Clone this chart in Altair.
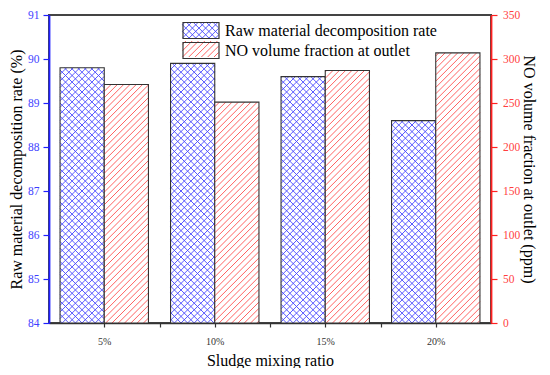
import math
import altair as alt
import pandas as pd

# ---------------- data ----------------
categories = ["5%", "10%", "15%", "20%"]
decomposition_rate = [89.8, 89.9, 89.6, 88.6]          # left axis (%)
no_fraction = [271, 251, 287, 307]                      # right axis (ppm)
series_names = ["Raw material decomposition rate", "NO volume fraction at outlet"]
left_tick_values = [84 + 0.5 * k for k in range(15)]
right_tick_values = [25 * k for k in range(15)]
x_tick_values = [0.5, 1, 1.5, 2, 2.5, 3, 3.5]
x_title = "Sludge mixing ratio"
left_title = "Raw material decomposition rate (%)"
right_title = "NO volume fraction at outlet (ppm)"

# ---------------- layout / style ----------------
W, H = 442, 308
LEFT_DOM = [84, 91]
RIGHT_DOM = [0, 350]
NCAT = len(categories)
X_DOM = [0, NCAT]
PX = W / NCAT
FONT = "Liberation Serif"
BLUE_LINE = "#4646ff"
RED_LINE = "#ff5050"
BLUE_AX = "#1f1fff"
RED_AX = "#ff2020"
BLUE_LBL = "#3f3fff"
RED_LBL = "#ff3f3f"
EDGE = "#333333"


def hatch(x0, x1, top, spacing, dirs):
    """45-degree hatch segments inside [x0,x1] x [0,top] (pixel units, y up)."""
    segs = []
    for d in dirs:
        if d == "/":
            lo, hi = -x1, top - x0
            for k in range(math.ceil(lo / spacing), math.floor(hi / spacing) + 1):
                c = k * spacing
                xs, xe = max(x0, -c), min(x1, top - c)
                if xe - xs > 0.2:
                    segs.append((xs, xs + c, xe, xe + c))
        else:
            lo, hi = x0, x1 + top
            for k in range(math.ceil(lo / spacing), math.floor(hi / spacing) + 1):
                c = k * spacing
                xs, xe = max(x0, c - top), min(x1, c)
                if xe - xs > 0.2:
                    segs.append((xs, c - xs, xe, c - xe))
    return segs


# bar tables
blue_df = pd.DataFrame({"category": categories, "idx": range(NCAT), "rate": decomposition_rate})
blue_df["xa"] = blue_df["idx"] + 0.1
blue_df["xb"] = blue_df["idx"] + 0.5
red_df = pd.DataFrame({"category": categories, "idx": range(NCAT), "ppm": no_fraction})
red_df["xa"] = red_df["idx"] + 0.5
red_df["xb"] = red_df["idx"] + 0.9

# hatch tables (derived from the bar values, mapped back into data units)
rows = []
for _, r in blue_df.iterrows():
    top = (r["rate"] - LEFT_DOM[0]) / (LEFT_DOM[1] - LEFT_DOM[0]) * H
    for (a, b, c, d) in hatch(r["xa"] * PX, r["xb"] * PX, top, 6.6, ["/", "\\"]):
        rows.append({"hx": a / PX, "hy": LEFT_DOM[0] + b / H * 7,
                     "hx2": c / PX, "hy2": LEFT_DOM[0] + d / H * 7})
blue_hatch = pd.DataFrame(rows)
rows = []
for _, r in red_df.iterrows():
    top = r["ppm"] / RIGHT_DOM[1] * H
    for (a, b, c, d) in hatch(r["xa"] * PX, r["xb"] * PX, top, 6.3, ["/"]):
        rows.append({"hx": a / PX, "hy": b / H * RIGHT_DOM[1],
                     "hx2": c / PX, "hy2": d / H * RIGHT_DOM[1]})
red_hatch = pd.DataFrame(rows)

# legend symbol paths (unit coordinates, r = sqrt(size)/2 = 8 px)
SYM_SIZE = 256
R = math.sqrt(SYM_SIZE) / 2
BW, BH = 36, 16


def legend_path(spacing, dirs):
    out = []
    for (a, b, c, d) in hatch(0, BW, BH, spacing, dirs):
        out.append("M%.3f,%.3fL%.3f,%.3f" % ((a - BW / 2) / R, (BH / 2 - b) / R,
                                             (c - BW / 2) / R, (BH / 2 - d) / R))
    return "".join(out)


rect_path = "M%.3f,%.3fH%.3fV%.3fH%.3fZ" % (-BW / 2 / R, -BH / 2 / R, BW / 2 / R, BH / 2 / R, -BW / 2 / R)
path_blue = legend_path(6.6, ["/", "\\"])
path_red = legend_path(6.3, ["/"])

# ---------------- scales ----------------
x_scale = alt.Scale(domain=X_DOM, nice=False, zero=False)
l_scale = alt.Scale(domain=LEFT_DOM, nice=False, zero=False)
r_scale = alt.Scale(domain=RIGHT_DOM, nice=False, zero=True)

cat_js = "[" + ",".join("'%s'" % c for c in categories) + "]"
x_axis = alt.Axis(
    title=x_title, values=x_tick_values,
    labelExpr="abs(datum.value %% 1 - 0.5) < 0.01 ? %s[floor(datum.value)] : ''" % cat_js,
    grid=False, domainColor=EDGE, domainWidth=1.5, tickColor=EDGE, tickWidth=1.2, tickSize=4,
    labelFontSize=10, labelColor=EDGE, labelPadding=9, labelOverlap=False,
    titleFontSize=16, titlePadding=6, titleColor="black",
)
left_axis = alt.Axis(
    orient="left", title=left_title, values=left_tick_values,
    labelExpr="datum.value % 1 == 0 ? format(datum.value, 'd') : ''",
    tickSize={"condition": {"test": "datum.value % 1 == 0", "value": 6}, "value": 3.5},
    grid=False, domainColor=BLUE_AX, domainWidth=1.8, tickColor=BLUE_AX, tickWidth=1.2,
    labelColor=BLUE_LBL, labelFontSize=11.5, labelPadding=4, labelOverlap=False,
    titleFontSize=16, titlePadding=3, titleColor="black", titleLimit=400,
)
right_axis = alt.Axis(
    orient="right", title=right_title, values=right_tick_values,
    labelExpr="datum.value % 50 == 0 ? format(datum.value, 'd') : ''",
    tickSize={"condition": {"test": "datum.value % 50 == 0", "value": 6}, "value": 3.5},
    grid=False, domainColor=RED_AX, domainWidth=1.8, tickColor=RED_AX, tickWidth=1.2,
    labelColor=RED_LBL, labelFontSize=11.5, labelPadding=5.5, labelOverlap=False,
    titleFontSize=16, titlePadding=1, titleColor="black", titleLimit=400,
)

# ---------------- left group (decomposition rate) ----------------
blue_bars = alt.Chart(blue_df).mark_bar(fill="white", strokeWidth=0).encode(
    x=alt.X("xa:Q", scale=x_scale, axis=x_axis, title=x_title),
    x2="xb:Q",
    y=alt.Y("rate:Q", scale=l_scale, axis=left_axis, title=left_title),
    y2=alt.datum(LEFT_DOM[0]),
)
blue_lines = alt.Chart(blue_hatch).mark_rule(color=BLUE_LINE, strokeWidth=0.9).encode(
    x=alt.X("hx:Q", scale=x_scale, title=x_title), x2="hx2:Q",
    y=alt.Y("hy:Q", scale=l_scale, title=left_title), y2="hy2:Q",
)
blue_edge = alt.Chart(blue_df).mark_bar(fillOpacity=0, stroke=EDGE, strokeWidth=1.1).encode(
    x=alt.X("xa:Q", scale=x_scale, title=x_title), x2="xb:Q",
    y=alt.Y("rate:Q", scale=l_scale, title=left_title), y2=alt.datum(LEFT_DOM[0]),
)
left_group = alt.layer(blue_bars, blue_lines, blue_edge)

# ---------------- right group (NO fraction) ----------------
red_bars = alt.Chart(red_df).mark_bar(fill="white", strokeWidth=0).encode(
    x=alt.X("xa:Q", scale=x_scale, title=x_title),
    x2="xb:Q",
    y=alt.Y("ppm:Q", scale=r_scale, axis=right_axis, title=right_title),
    y2=alt.datum(0),
)
red_lines = alt.Chart(red_hatch).mark_rule(color=RED_LINE, strokeWidth=0.9).encode(
    x=alt.X("hx:Q", scale=x_scale, title=x_title), x2="hx2:Q",
    y=alt.Y("hy:Q", scale=r_scale, title=right_title), y2="hy2:Q",
)
red_edge = alt.Chart(red_df).mark_bar(fillOpacity=0, stroke=EDGE, strokeWidth=1.1).encode(
    x=alt.X("xa:Q", scale=x_scale, title=x_title), x2="xb:Q",
    y=alt.Y("ppm:Q", scale=r_scale, title=right_title), y2=alt.datum(0),
)
right_group = alt.layer(red_bars, red_lines, red_edge)

# ---------------- legend (two overlaid legends: hatch + frame) ----------------
LEG_X, LEG_Y = 143, 6.5
leg_df = pd.DataFrame({"series": series_names, "series_b": series_names})
common = dict(orient="none", legendX=LEG_X, legendY=LEG_Y, title=None, padding=0,
              symbolSize=SYM_SIZE, labelFont=FONT, labelFontSize=16, labelOffset=15,
              rowPadding=-11, labelLimit=400)
hatch_legend = alt.Legend(symbolStrokeWidth=0.9, labelColor="transparent", **common)
frame_legend = alt.Legend(symbolStrokeWidth=1.2, labelColor="black", symbolType=rect_path, **common)

legend_hatch_layer = alt.Chart(leg_df).mark_point(filled=False, opacity=1, size=SYM_SIZE).encode(
    shape=alt.Shape("series:N", scale=alt.Scale(domain=series_names, range=[path_blue, path_red]),
                    legend=hatch_legend),
    stroke=alt.Stroke("series:N", scale=alt.Scale(domain=series_names, range=[BLUE_LINE, RED_LINE]),
                      legend=hatch_legend),
).transform_filter("false")
legend_frame_layer = alt.Chart(leg_df).mark_point(filled=False, opacity=1, size=SYM_SIZE,
                                                  color=EDGE, strokeWidth=1.2).encode(
    shape=alt.Shape("series_b:N", scale=alt.Scale(domain=series_names, range=[rect_path, rect_path]),
                    legend=frame_legend),
).transform_filter("false")

chart = alt.layer(left_group, right_group, legend_hatch_layer, legend_frame_layer).resolve_scale(
    y="independent", shape="independent", stroke="independent"
).properties(
    width=W, height=H, padding={"left": 0, "top": 1, "right": 2, "bottom": 0},
    background="white",
).configure_view(
    stroke="#444444", strokeWidth=2,
).configure_axis(
    labelFont=FONT, titleFont=FONT, titleFontWeight="normal",
)

chart.save("out.html", embed_options={"renderer": "svg", "actions": False})
